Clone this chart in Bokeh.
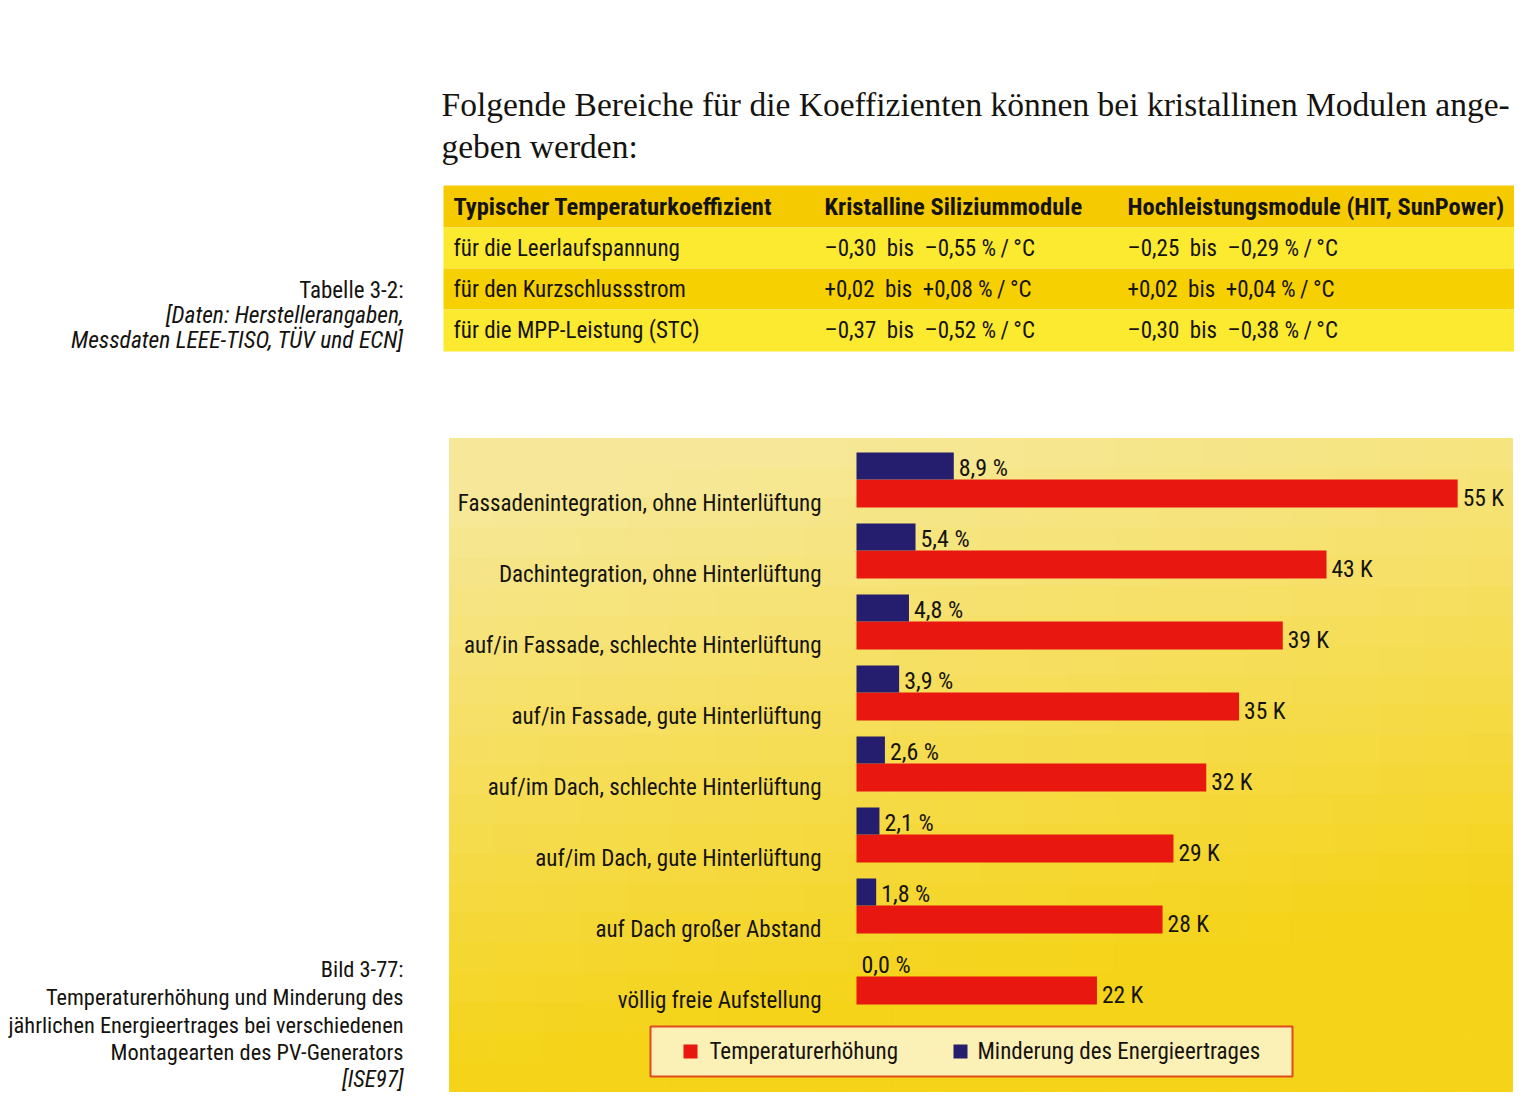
from bokeh.plotting import figure
from bokeh.models import Range1d
from bokeh.core.properties import value
from bokeh.embed import file_html
from bokeh.resources import INLINE

# ---------------- data ----------------
categories = [
    "Fassadenintegration, ohne Hinterlüftung",
    "Dachintegration, ohne Hinterlüftung",
    "auf/in Fassade, schlechte Hinterlüftung",
    "auf/in Fassade, gute Hinterlüftung",
    "auf/im Dach, schlechte Hinterlüftung",
    "auf/im Dach, gute Hinterlüftung",
    "auf Dach großer Abstand",
    "völlig freie Aufstellung",
]
temp_rise_K = [55, 43, 39, 35, 32, 29, 28, 22]
yield_loss_pct = [8.9, 5.4, 4.8, 3.9, 2.6, 2.1, 1.8, 0.0]
legend_labels = ["Temperaturerhöhung", "Minderung des Energieertrages"]

heading_lines = [
    "Folgende Bereiche für die Koeffizienten können bei kristallinen Modulen ange-",
    "geben werden:",
]
table_header = ["Typischer Temperaturkoeffizient", "Kristalline Siliziummodule",
                "Hochleistungsmodule (HIT, SunPower)"]
table_col1 = ["für die Leerlaufspannung", "für den Kurzschlussstrom", "für die MPP-Leistung (STC)"]
table_col2 = ["–0,30\u00a0 bis\u00a0 –0,55\u00a0%\u2009/\u2009°C",
              "+0,02\u00a0 bis\u00a0 +0,08\u00a0%\u2009/\u2009°C",
              "–0,37\u00a0 bis\u00a0 –0,52\u00a0%\u2009/\u2009°C"]
table_col3 = ["–0,25\u00a0 bis\u00a0 –0,29\u00a0%\u2009/\u2009°C",
              "+0,02\u00a0 bis\u00a0 +0,04\u00a0%\u2009/\u2009°C",
              "–0,30\u00a0 bis\u00a0 –0,38\u00a0%\u2009/\u2009°C"]
table_caption = ["Tabelle 3-2:", "[Daten: Herstellerangaben,", "Messdaten LEEE-TISO, TÜV und ECN]"]
figure_caption = ["Bild 3-77:", "Temperaturerhöhung und Minderung des",
                  "jährlichen Energieertrages bei verschiedenen",
                  "Montagearten des PV-Generators", "[ISE97]"]

# ---------------- layout constants ----------------
W, H = 1514, 1098
OX, OY = 0, 0
SANS = value("'Roboto Condensed', 'DejaVu Sans Condensed', 'Liberation Sans Narrow', "
             "'Open Sans Condensed', Roboto, sans-serif")
SERIF = value("Liberation Serif")
INK = "#15130f"
RED = "#e8170f"
BLUE = "#251d6d"

zero_px, px_per_unit = 856.0, 10.93
row0_px, row_px = 493.0, 71.0

x_range = Range1d(start=(OX - zero_px) / px_per_unit, end=(OX + W - zero_px) / px_per_unit)
y_range = Range1d(start=(OY + H - row0_px) / row_px, end=(OY - row0_px) / row_px)

p = figure(width=W, height=H, x_range=x_range, y_range=y_range,
           output_backend="svg", toolbar_location=None,
           x_axis_location=None, y_axis_location=None, min_border=0,
           outline_line_color=None, background_fill_color="white",
           border_fill_color="white")
p.grid.visible = False
p.extra_x_ranges = {"px": Range1d(OX, OX + W)}
p.extra_y_ranges = {"px": Range1d(OY + H, OY)}
PX = dict(x_range_name="px", y_range_name="px")

# ---------------- heading ----------------
p.text(x=[441, 441], y=[104, 146], text=heading_lines, text_font=SERIF,
       text_font_size="33.5px", text_color=INK, text_baseline="alphabetic", **PX)

# ---------------- table ----------------
row_tops = [185, 227, 268, 309]
row_bots = [227, 268, 309, 351]
row_cols = ["#f5ca00", "#fcea30", "#f6d000", "#fcea30"]
p.quad(left=[443] * 4, right=[1516] * 4, top=row_tops, bottom=row_bots,
       fill_color=row_cols, line_color=None, **PX)
hy = (row_tops[0] + row_bots[0]) / 2
p.text(x=[453, 824, 1127], y=[hy] * 3, text=table_header, text_font=SANS,
       text_font_style="bold", text_font_size="24.5px", text_color=INK,
       text_baseline="middle", **PX)
body_y = [(t + b) / 2 for t, b in zip(row_tops[1:], row_bots[1:])]
for cx, col in zip([453, 824, 1127], [table_col1, table_col2, table_col3]):
    p.text(x=[cx] * 3, y=body_y, text=col, text_font=SANS, text_font_size="23px",
           text_color=INK, text_baseline="middle", **PX)

# ---------------- side captions ----------------
p.text(x=[403] * 1, y=[290], text=table_caption[:1], text_font=SANS, text_font_size="23px",
       text_color=INK, text_align="right", text_baseline="middle", **PX)
p.text(x=[403] * 2, y=[314, 339], text=table_caption[1:], text_font=SANS,
       text_font_style="italic", text_font_size="23.5px", text_color=INK,
       text_align="right", text_baseline="middle", **PX)
p.text(x=[403] * 4, y=[968, 996, 1024, 1051], text=figure_caption[:4], text_font=SANS,
       text_font_size="22.4px", text_color=INK, text_align="right",
       text_baseline="middle", **PX)
p.text(x=[403], y=[1079], text=figure_caption[4:], text_font=SANS,
       text_font_style="italic", text_font_size="23px", text_color=INK,
       text_align="right", text_baseline="middle", **PX)

# ---------------- chart panel background (gradient) ----------------
bx0, bx1, by0, by1 = 449, 1512, 438, 1091
nx, ny = 24, 22
top_c = (246, 232, 152)
bot_c = (245, 211, 24)
L, R, T, B, C = [], [], [], [], []
for j in range(ny):
    for i in range(nx):
        u = (i + 0.5) / nx
        v = (j + 0.5) / ny
        t = min(1.0, max(0.0, 1.15 * v + 0.3 * u - 0.12))
        col = tuple(int(round(a + (b - a) * t)) for a, b in zip(top_c, bot_c))
        L.append(bx0 + (bx1 - bx0) * i / nx)
        R.append(bx0 + (bx1 - bx0) * (i + 1) / nx)
        T.append(by0 + (by1 - by0) * j / ny)
        B.append(by0 + (by1 - by0) * (j + 1) / ny)
        C.append("#%02x%02x%02x" % col)
p.quad(left=L, right=R, top=T, bottom=B, fill_color=C, line_color=C, line_width=1, **PX)

# ---------------- bars ----------------
idx = list(range(len(categories)))
red_h = 28 / row_px
blue_h = 27 / row_px
blue_off = 27.5 / row_px
blue_y = [i - blue_off for i in idx]

p.hbar(y=idx, left=0, right=temp_rise_K, height=red_h, fill_color=RED, line_color=None)
p.hbar(y=blue_y, left=0, right=yield_loss_pct, height=blue_h, fill_color=BLUE, line_color=None)

# category labels
p.text(x=[821] * len(categories), y=[i + 0.14 for i in idx], text=categories,
       text_font=SANS, text_font_size="23px", text_color=INK, text_align="right",
       text_baseline="middle", x_range_name="px")

# value labels
k_labels = [f"{k} K" for k in temp_rise_K]
pct_labels = [f"{v:.1f} %".replace(".", ",") for v in yield_loss_pct]
p.text(x=temp_rise_K, y=[i + 0.06 for i in idx], text=k_labels, x_offset=5,
       text_font=SANS, text_font_size="23.5px", text_color=INK, text_baseline="middle")
p.text(x=yield_loss_pct, y=[y + 0.03 for y in blue_y], text=pct_labels, x_offset=5,
       text_font=SANS, text_font_size="24px", text_color=INK, text_baseline="middle")

# ---------------- legend box ----------------
p.quad(left=[650], right=[1292], top=[1026], bottom=[1076], fill_color="#fbf0b6",
       line_color="#e04a1c", line_width=2, **PX)
p.quad(left=[683, 953], right=[697, 967], top=[1044, 1044], bottom=[1058, 1058],
       fill_color=[RED, BLUE], line_color=None, **PX)
p.text(x=[709, 977], y=[1051, 1051], text=legend_labels, text_font=SANS,
       text_font_size="23px", text_color=INK, text_baseline="middle", **PX)

open("out.html", "w").write(file_html(p, INLINE))
